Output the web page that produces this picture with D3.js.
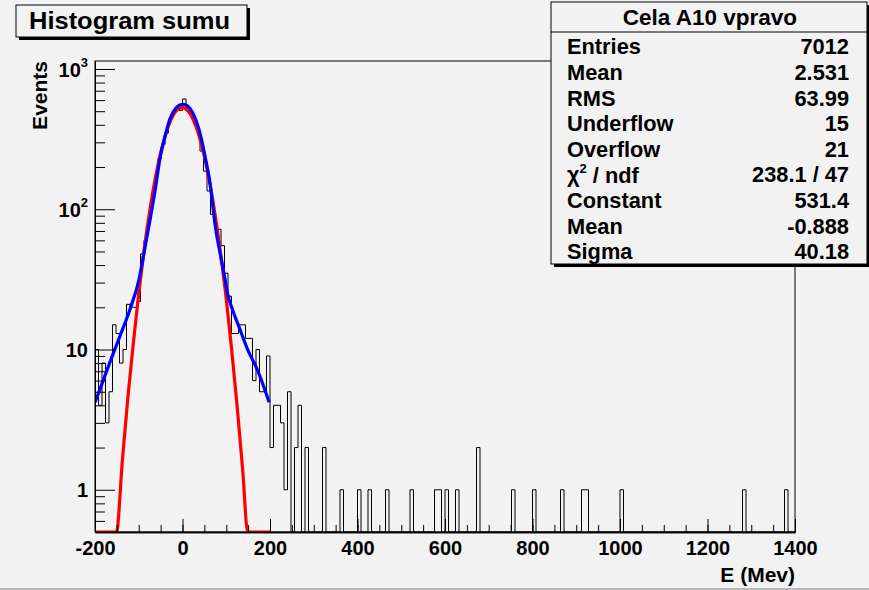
<!DOCTYPE html>
<html><head><meta charset="utf-8">
<script src="https://cdn.jsdelivr.net/npm/d3@7"></script>
<style>
html,body{margin:0;padding:0;background:#f2f2f2;}
svg{display:block;font-family:"Liberation Sans",Arial,Helvetica,sans-serif;font-weight:bold;}
</style></head><body>
<svg id="c" width="869" height="590"></svg>
<script>
// ---------------- data ----------------
const binStart = -200, binWidth = 8, binEnd = 1400;
// bins from -200 to 200 (8 MeV each)
const coreCounts = [10,4,8,3,5,15,13,8,10,21,
                    20,20,22,48,60,85,115,170,230,290,
                    350,440,500,520,507,611,530,490,430,369,
                    260,187,135,92,80,72,55,35,24,13,
                    13,15,15,12,12,6,10,5,5,9];
// sparse tail: lower bin edge and count
const tailLow   = [200,208,216,224,232,240,256,264,280,320,360,400,424,464,520,576,584,600,624,672,752,800,864,912,920,1000,1280,1376];
const tailCount = [2,  4,  4,  3,  1,  5,  2,  4,  2,  2,  1,  1,  1,  1,  1,  1,  1,  1,  1,  2,  1,  1,  1,  1,  1,  1,   1,   1];
// red fit (gaussian)
const redX = [-200,-151,-137.5,-125,-112.5,-100,-87.5,-75,-62.5,-50,-37.5,-25,-12.5,0,12.5,25,37.5,50,62.5,75,87.5,100,112.5,125,137.5,149,200];
const redY = [0.5,0.5,1.6,4.5,11,25,52,97,164,252,350,444,510,531,503,432,337,238,153,89,47,23,9.9,3.9,1.4,0.5,0.5];
// blue fit
const blueX = [-200,-185,-166,-145,-120,-100,-90,-74,-62,-51,-40,-29,-18,-8,2,12,22,32,42,52,62,76,88,97,103,115,131,150,170,198];
const blueY = [4.2,5.6,8.1,12,19.4,31,45,85,140,235,330,437,510,550,560,545,495,420,330,235,160,72,45,32,25,19,14,9.8,7.3,4.2];
// axes
const xMajor = [-200,0,200,400,600,800,1000,1200,1400];
const xMinor = d3.range(-200,1401,50);
const yMajor = [1,10,100,1000];
const yMinor = [0.6,0.7,0.8,0.9,2,3,4,5,6,7,8,9,20,30,40,50,60,70,80,90,200,300,400,500,600,700,800,900];
const yMin = 0.5, yMax = 1140;
// texts
const histTitle = "Histogram sumu";
const statTitle = "Cela A10 vpravo";
const statLabels = ["Entries","Mean","RMS","Underflow","Overflow","CHI","Constant","Mean","Sigma"];
const statValues = ["7012","2.531","63.99","15","21","238.1 / 47","531.4","-0.888","40.18"];
const xTitle = "E (Mev)", yTitle = "Events";

// ---------------- drawing ----------------
const svg = d3.select("#c");
const FL=95, FR=795, FT=61, FB=532;
const x = d3.scaleLinear().domain([binStart, binEnd]).range([FL, FR]);
const y = d3.scaleLog().domain([yMin, yMax]).range([FB, FT]);

svg.append("rect").attr("width",869).attr("height",590).attr("fill","#f2f2f2");
svg.append("rect").attr("x",0).attr("y",588).attr("width",869).attr("height",2).attr("fill","#b8b8b8");

// frame
svg.append("rect").attr("x",FL).attr("y",FT).attr("width",FR-FL).attr("height",FB-FT)
  .attr("fill","#f2f2f2").attr("stroke","#000").attr("stroke-width",1);

svg.append("clipPath").attr("id","fr").append("rect")
  .attr("x",FL).attr("y",FT-1).attr("width",FR-FL).attr("height",FB-FT+2);

// histogram counts
const nBins = Math.round((binEnd-binStart)/binWidth);
const counts = new Array(nBins).fill(0);
coreCounts.forEach((c,i)=>counts[i]=c);
tailLow.forEach((lo,i)=>{counts[Math.round((lo-binStart)/binWidth)] = tailCount[i];});

let d = `M${x(binStart)},${y(yMin)}`;
counts.forEach((c,i)=>{
  const lo = binStart+i*binWidth, hi = lo+binWidth;
  const v = Math.max(c, yMin);
  d += `L${x(lo)},${y(v)}L${x(hi)},${y(v)}`;
});
d += `L${x(binEnd)},${y(yMin)}`;
const plot = svg.append("g").attr("clip-path","url(#fr)");
plot.append("path").attr("d",d).attr("fill","none").attr("stroke","#000").attr("stroke-width",1);

const line = d3.line().x(p=>x(p[0])).y(p=>y(Math.max(p[1],yMin))).curve(d3.curveMonotoneX);
plot.append("path").attr("d",line(redX.map((v,i)=>[v,redY[i]])))
  .attr("fill","none").attr("stroke","#ff0000").attr("stroke-width",3.2);
plot.append("path").attr("d",line(blueX.map((v,i)=>[v,blueY[i]])))
  .attr("fill","none").attr("stroke","#0000ff").attr("stroke-width",3.2);

// x axis
const gx = svg.append("g").attr("transform",`translate(0,${FB})`);
gx.call(d3.axisBottom(x).tickValues(xMinor).tickSize(-7).tickSizeOuter(0).tickFormat(""));
const gx2 = svg.append("g").attr("transform",`translate(0,${FB})`);
gx2.call(d3.axisBottom(x).tickValues(xMajor).tickSize(-13).tickSizeOuter(0).tickPadding(9).tickFormat(v=>String(v)));
[gx,gx2].forEach(g=>{g.selectAll("line").attr("stroke","#000");g.select(".domain").attr("stroke","#000").attr("stroke-width",1.5);});
gx2.selectAll("text").attr("font-size",20).attr("font-family",null).attr("font-weight","bold").attr("fill","#000");

// y axis
const gy = svg.append("g").attr("transform",`translate(${FL},0)`);
gy.call(d3.axisLeft(y).tickValues(yMinor).tickSize(-10).tickSizeOuter(0).tickFormat(""));
const gy2 = svg.append("g").attr("transform",`translate(${FL},0)`);
gy2.call(d3.axisLeft(y).tickValues(yMajor).tickSize(-20).tickSizeOuter(0).tickPadding(7).tickFormat(""));
[gy,gy2].forEach(g=>{g.selectAll("line").attr("stroke","#000");g.select(".domain").attr("stroke","#000");});
gy2.selectAll(".tick").each(function(v){
  const t = d3.select(this).select("text").attr("font-size",20).attr("font-family",null)
    .attr("font-weight","bold").attr("fill","#000").attr("dy","0.36em");
  const e = Math.round(Math.log10(v));
  if (e<=1) { t.text(String(v)); }
  else {
    t.text(null);
    t.append("tspan").text("10");
    t.append("tspan").attr("font-size",13).attr("dy","-0.75em").text(String(e));
  }
});

// axis titles
svg.append("text").attr("x",FR).attr("y",582).attr("text-anchor","end")
  .attr("font-size",21).text(xTitle);
svg.append("text").attr("transform",`translate(47,${FT}) rotate(-90)`).attr("text-anchor","end")
  .attr("font-size",21).text(yTitle);

// title box
svg.append("rect").attr("x",19).attr("y",8).attr("width",231).attr("height",32).attr("fill","#000");
svg.append("rect").attr("x",16).attr("y",5).attr("width",231).attr("height",32)
  .attr("fill","#f2f2f2").attr("stroke","#000").attr("stroke-width",1);
svg.append("text").attr("x",29).attr("y",29).attr("font-size",24)
  .attr("textLength",201).attr("lengthAdjust","spacingAndGlyphs").text(histTitle);

// stats box
const SX=551, SY=2, SW=316, SH=262;
svg.append("rect").attr("x",SX+3).attr("y",SY+3).attr("width",SW).attr("height",SH).attr("fill","#000");
svg.append("rect").attr("x",SX).attr("y",SY).attr("width",SW).attr("height",SH)
  .attr("fill","#f2f2f2").attr("stroke","#000").attr("stroke-width",1);
svg.append("line").attr("x1",SX).attr("x2",SX+SW).attr("y1",32).attr("y2",32).attr("stroke","#000");
svg.append("text").attr("x",SX+SW/2+1).attr("y",25).attr("text-anchor","middle").attr("font-size",22.5).text(statTitle);
statLabels.forEach((lab,i)=>{
  const cy = 46.7 + 25.63*i + 7.6;
  const t = svg.append("text").attr("x",567).attr("y",cy).attr("font-size",21.8);
  if (lab==="CHI") {
    t.append("tspan").text("\u03C7");
    t.append("tspan").attr("font-size",13).attr("dy","-0.7em").text("2");
    t.append("tspan").attr("dy","0.45em").text(" / ndf");
  } else t.text(lab);
  svg.append("text").attr("x",849).attr("y",cy).attr("text-anchor","end").attr("font-size",21.8).text(statValues[i]);
});
</script>
</body></html>
